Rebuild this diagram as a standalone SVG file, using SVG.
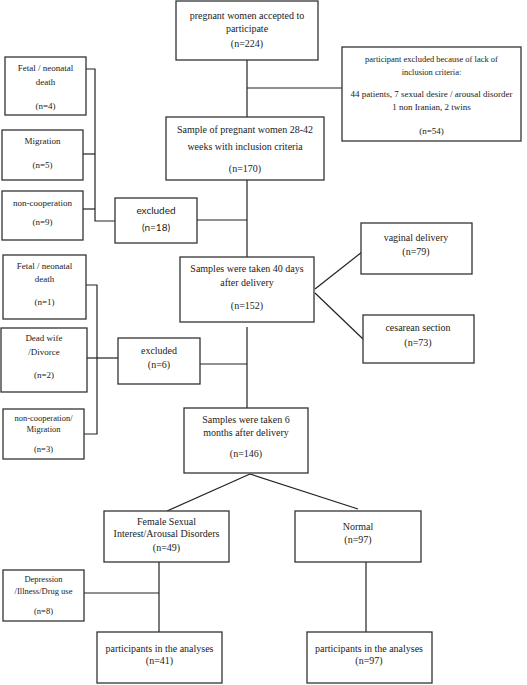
<svg xmlns="http://www.w3.org/2000/svg" width="527" height="685" viewBox="0 0 527 685">
<style>
rect.b{fill:#fff;stroke:#333;stroke-width:1.3}
#connectors line,#connectors polyline{stroke:#222;stroke-width:1.2;fill:none}
text{font-family:"Liberation Serif","Times New Roman",serif;fill:#222;text-anchor:middle;font-size:10px}
.s{font-size:9px}
.xs{font-size:8.5px}
.c{font-family:Lato,"Liberation Sans",sans-serif}
</style>
<rect width="527" height="685" fill="#fff"/>
<g id="connectors">
<line x1="247" y1="60" x2="247" y2="117"/>
<line x1="247" y1="88" x2="342" y2="88"/>
<line x1="247" y1="180" x2="247" y2="257"/>
<polyline points="86,69 95,69 95,221 115,221"/>
<line x1="83" y1="154" x2="95" y2="154"/>
<line x1="83" y1="209" x2="95" y2="209"/>
<line x1="197" y1="220" x2="247" y2="220"/>
<line x1="315" y1="289" x2="362" y2="252"/>
<line x1="315" y1="293" x2="363" y2="339"/>
<polyline points="86,285 97,285 97,434 84,434"/>
<line x1="87" y1="358" x2="118" y2="358"/>
<line x1="200" y1="364" x2="247" y2="364"/>
<line x1="247" y1="327" x2="247" y2="408"/>
<line x1="250" y1="474" x2="167" y2="511"/>
<line x1="250" y1="474" x2="358" y2="509"/>
<line x1="159" y1="562" x2="159" y2="632"/>
<line x1="84" y1="593" x2="159" y2="593"/>
<line x1="366" y1="562" x2="366" y2="632"/>
</g>
<g id="n_start">
<rect class="b" x="176" y="1" width="142" height="59"/>
<text x="247" y="18.5">pregnant women accepted to</text>
<text x="247" y="31.5">participate</text>
<text x="247" y="46.5">(n=224)</text>
</g>
<g id="n_excl_criteria">
<rect class="b" x="342" y="47" width="179" height="94"/>
<text class="xs" x="431.5" y="62">participant excluded because of lack of</text>
<text class="xs" x="431.5" y="75">inclusion criteria:</text>
<text class="s" x="431.5" y="97">44 patients, 7 sexual desire / arousal disorder</text>
<text class="s" x="431.5" y="110">1 non Iranian, 2 twins</text>
<text class="s" x="431.5" y="134">(n=54)</text>
</g>
<g id="n_sample">
<rect class="b" x="166" y="117" width="158" height="63"/>
<text x="245" y="132.5">Sample of pregnant women 28-42</text>
<text x="245" y="149.5">weeks with inclusion criteria</text>
<text x="245" y="171.5">(n=170)</text>
</g>
<g id="n_fetal1">
<rect class="b" x="5" y="57" width="81" height="58"/>
<text class="s" x="45.5" y="71">Fetal / neonatal</text>
<text class="s" x="45.5" y="85">death</text>
<text class="s" x="45.5" y="109">(n=4)</text>
</g>
<g id="n_migration1">
<rect class="b" x="2" y="130" width="81" height="50"/>
<text class="s" x="42.5" y="144">Migration</text>
<text class="s" x="42.5" y="168">(n=5)</text>
</g>
<g id="n_noncoop1">
<rect class="b" x="2" y="191" width="81" height="49"/>
<text class="s" x="42.5" y="206">non-cooperation</text>
<text class="s" x="42.5" y="225">(n=9)</text>
</g>
<g id="n_excluded18">
<rect class="b" x="115" y="198" width="82" height="45"/>
<text class="c" x="156" y="214" font-size="11">excluded</text>
<text class="c" x="156" y="231" font-size="8.5">(n=18)</text>
</g>
<g id="n_40days">
<rect class="b" x="180" y="257" width="134" height="65"/>
<text x="247" y="271.5">Samples were taken 40 days</text>
<text x="247" y="285.5">after delivery</text>
<text x="247" y="308.5">(n=152)</text>
</g>
<g id="n_vaginal">
<rect class="b" x="361" y="223" width="111" height="51"/>
<text x="416" y="240.5">vaginal delivery</text>
<text x="416" y="254.5">(n=79)</text>
</g>
<g id="n_cesarean">
<rect class="b" x="363" y="315" width="111" height="48"/>
<text x="418" y="330.5">cesarean section</text>
<text x="418" y="345.5">(n=73)</text>
</g>
<g id="n_fetal2">
<rect class="b" x="3" y="255" width="83" height="64"/>
<text class="s" x="44.5" y="269">Fetal / neonatal</text>
<text class="s" x="44.5" y="282">death</text>
<text class="s" x="44.5" y="305">(n=1)</text>
</g>
<g id="n_deadwife">
<rect class="b" x="1" y="328" width="86" height="64"/>
<text class="s" x="44" y="341">Dead wife</text>
<text class="s" x="44" y="355">/Divorce</text>
<text class="s" x="44" y="378">(n=2)</text>
</g>
<g id="n_noncoop2">
<rect class="b" x="3" y="409" width="81" height="50"/>
<text class="xs" x="43.5" y="421">non-cooperation/</text>
<text class="xs" x="43.5" y="432">Migration</text>
<text class="xs" x="43.5" y="452">(n=3)</text>
</g>
<g id="n_excluded6">
<rect class="b" x="118" y="338" width="82" height="46"/>
<text x="159" y="353.5">excluded</text>
<text x="159" y="367.5">(n=6)</text>
</g>
<g id="n_6months">
<rect class="b" x="184" y="408" width="124" height="65"/>
<text x="246" y="422.5">Samples were taken 6</text>
<text x="246" y="435.5">months after delivery</text>
<text x="246" y="456.5">(n=146)</text>
</g>
<g id="n_fsiad">
<rect class="b" x="104" y="511" width="125" height="51"/>
<text x="166.5" y="524.5">Female Sexual</text>
<text x="166.5" y="536.5">Interest/Arousal Disorders</text>
<text x="166.5" y="550.5">(n=49)</text>
</g>
<g id="n_normal">
<rect class="b" x="295" y="511" width="126" height="51"/>
<text x="358" y="529.5">Normal</text>
<text x="358" y="542.5">(n=97)</text>
</g>
<g id="n_depression">
<rect class="b" x="3" y="570" width="81" height="51"/>
<text class="xs" x="43.5" y="582">Depression</text>
<text class="xs" x="43.5" y="594">/Illness/Drug use</text>
<text class="xs" x="43.5" y="614">(n=8)</text>
</g>
<g id="n_part41">
<rect class="b" x="97" y="632" width="125" height="51"/>
<text x="159.5" y="651.5">participants in the analyses</text>
<text x="159.5" y="663.5">(n=41)</text>
</g>
<g id="n_part97">
<rect class="b" x="307" y="632" width="125" height="51"/>
<text x="369" y="651.5">participants in the analyses</text>
<text x="369" y="663.5">(n=97)</text>
</g>
</svg>
